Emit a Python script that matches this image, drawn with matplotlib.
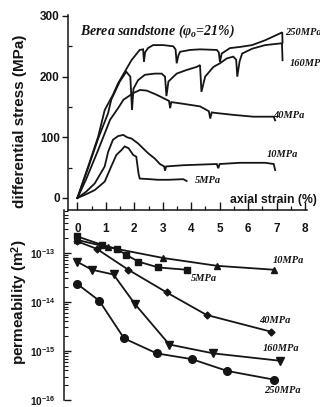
import matplotlib
matplotlib.use("Agg")
import matplotlib.pyplot as plt
import numpy as np

plt.rcParams['font.family'] = ['Liberation Sans', 'DejaVu Sans']
plt.rcParams['mathtext.fontset'] = 'custom'
plt.rcParams['mathtext.rm'] = 'Liberation Sans'
plt.rcParams['mathtext.bf'] = 'Liberation Sans:bold'
plt.rcParams['mathtext.it'] = 'Liberation Serif:italic:bold'

# ---------------- stress-strain data (upper panel) ----------------
strain_250 = [0, 0.38, 0.73, 0.96, 1.25, 1.43, 1.9, 2.19, 2.31, 2.34, 2.38, 2.48, 2.66, 3.02, 3.37, 3.45,
              3.49, 3.55, 3.61, 3.96, 4.31, 4.9, 4.97, 5.01, 5.07, 5.36, 5.72, 6.14, 6.6, 7.2, 7.21]
stress_250 = [0, 52, 101, 145, 170, 189, 227, 244, 245, 225, 240, 247, 252, 252, 250, 245,
              222, 235, 241, 244, 245, 244, 240, 224, 238, 247, 249, 252, 260, 273, 256]

strain_160 = [0, 0.38, 0.73, 1.08, 1.19, 1.49, 1.72, 1.86, 1.92, 1.97, 2.13, 2.37, 2.72, 2.96, 3.08,
              3.13, 3.2, 3.49, 3.84, 4.19, 4.31, 4.36, 4.49, 4.78, 5.01, 5.25, 5.48, 5.58, 5.62, 5.70,
              5.79, 6.14, 6.6, 7.19, 7.21]
stress_160 = [0, 50, 98, 140, 162, 192, 208, 200, 145, 180, 194, 203, 205, 205, 200,
              168, 192, 205, 211, 216, 219, 175, 200, 216, 222, 230, 233, 228, 200, 225,
              238, 246, 252, 255, 227]

strain_40 = [0, 0.3, 0.73, 1.15, 1.43, 1.62, 1.97, 2.2, 2.44, 2.79, 3.22, 3.26, 3.3, 3.61, 4.31,
             4.62, 4.67, 4.72, 4.89, 5.48, 6.18, 6.9, 6.95]
stress_40 = [0, 30, 79, 129, 148, 162, 173, 178, 177, 170, 160, 148, 158, 156, 151,
             143, 131, 141, 140, 137, 134, 134, 128]

strain_10 = [0, 0.3, 0.61, 0.96, 1.08, 1.25, 1.43, 1.61, 1.75, 1.9, 2.13, 2.48, 2.72, 2.9, 3.05,
             3.08, 3.12, 3.72, 4.9, 4.95, 5.0, 5.72, 6.14, 6.6, 6.9, 6.95]
stress_10 = [0, 10, 24, 52, 76, 96, 102, 104, 100, 98, 90, 74, 65, 56, 52,
             45, 52, 54, 56, 49, 56, 58, 58, 58, 56, 46]

strain_5 = [0, 0.3, 0.61, 0.96, 1.19, 1.37, 1.55, 1.66, 1.8, 1.96, 2.07, 2.15, 2.19, 2.55, 2.83,
            3.2, 3.72, 3.84]
stress_5 = [0, 6, 13, 27, 52, 71, 79, 85, 82, 71, 68, 40, 32, 31, 30, 30, 31, 28]

# ---------------- permeability data (lower panel) ----------------
perm_strain_5 = [0, 0.86, 1.38, 1.71, 2.14, 2.85, 3.84]
perm_5 = [2.14e-13, 1.45e-13, 1.2e-13, 9.1e-14, 6.6e-14, 5.0e-14, 4.5e-14]
perm_strain_10 = [0, 1.09, 3.02, 4.92, 6.91]
perm_10 = [1.82e-13, 1.29e-13, 7.8e-14, 5.4e-14, 4.5e-14]
perm_strain_40 = [0, 0.68, 1.79, 3.14, 4.54, 6.82]
perm_40 = [1.7e-13, 1.2e-13, 4.5e-14, 1.55e-14, 5.4e-15, 2.45e-15]
perm_strain_160 = [0, 0.51, 1.27, 2.03, 3.23, 4.78, 7.12]
perm_160 = [6.5e-14, 4.5e-14, 3.6e-14, 8.9e-15, 1.35e-15, 8.9e-16, 6.3e-16]
perm_strain_250 = [0, 0.77, 1.64, 2.79, 4.02, 5.27, 6.91]
perm_250 = [2.3e-14, 1.05e-14, 1.8e-15, 8.9e-16, 6.8e-16, 3.9e-16, 2.6e-16]

x_ticks = [0, 1, 2, 3, 4, 5, 6, 7, 8]
stress_ticks = [0, 100, 200, 300]
perm_ticks = [1e-16, 1e-15, 1e-14, 1e-13]
perm_tick_labels = [r'$\mathbf{10^{-16}}$', r'$\mathbf{10^{-15}}$', r'$\mathbf{10^{-14}}$', r'$\mathbf{10^{-13}}$']

W, H = 320, 407
fig = plt.figure(figsize=(W / 100, H / 100), dpi=100)
fig.patch.set_facecolor('white')

ax2 = fig.add_axes([64 / W, (H - 400) / H, (307 - 64) / W, (400 - 210) / H])
ax1 = fig.add_axes([68 / W, (H - 210) / H, (307 - 68) / W, (210 - 15) / H])
for a in (ax1, ax2):
    a.patch.set_visible(False)

ink = '#151515'
lw = 1.3

# upper panel
for s, t in [(strain_250, stress_250), (strain_160, stress_160), (strain_40, stress_40),
             (strain_10, stress_10), (strain_5, stress_5)]:
    ax1.plot(s, t, color=ink, lw=lw, solid_joinstyle='miter')

ax1.set_xlim(-0.33, 8.07)
ax1.set_ylim(-19.8, 301.6)
for sp in ['top', 'right']:
    ax1.spines[sp].set_visible(False)
for sp in ['left', 'bottom']:
    ax1.spines[sp].set_linewidth(1.1)
    ax1.spines[sp].set_color(ink)
ax1.set_yticks(stress_ticks)
ax1.set_yticklabels([str(v) for v in stress_ticks], fontsize=8.5, fontweight='bold')
ax1.set_yticks([50, 150, 250], minor=True)
ax1.tick_params(axis='y', which='major', direction='out', length=4, width=1, pad=2, colors=ink)
ax1.tick_params(axis='y', which='minor', direction='in', length=3, width=0.9, colors=ink)
ax1.set_xticks(x_ticks)
ax1.set_xticklabels([str(v) for v in x_ticks], fontsize=8.5, fontweight='bold')
ax1.set_xticks(np.arange(0.5, 8, 1.0), minor=True)
ax1.tick_params(axis='x', which='major', direction='in', length=6, width=1, pad=9, colors=ink)
ax1.tick_params(axis='x', which='minor', direction='in', length=3, width=0.9, colors=ink)

ax1.text(0.09, 274, r'Berea sandstone ($\varphi_o$=21%)', fontsize=10, family='Liberation Serif',
         style='italic', weight='bold', va='center', ha='left', color=ink)
lab_kw = dict(fontsize=7.5, family='Liberation Serif', style='italic', weight='bold',
              va='center', ha='left', color=ink, clip_on=False)
ax1.text(7.30, 273, '250MPa', **lab_kw)
ax1.text(7.45, 222, '160MPa', **lab_kw)
ax1.text(6.87, 136, '40MPa', **lab_kw)
ax1.text(6.65, 72, '10MPa', **lab_kw)
ax1.text(4.13, 28, '5MPa', **lab_kw)
ax1.text(5.36, -2.5, 'axial strain (%)', fontsize=8.8, weight='bold', va='center', ha='left',
         color=ink, clip_on=False)

# lower panel
mk = dict(color=ink, lw=lw, markeredgecolor=ink, markerfacecolor=ink)
ax2.plot(perm_strain_10, perm_10, marker='^', ms=5, **mk)
ax2.plot(perm_strain_5, perm_5, marker='s', ms=5, **mk)
ax2.plot(perm_strain_40, perm_40, marker='D', ms=3.5, **mk)
ax2.plot(perm_strain_160, perm_160, marker='v', ms=5.5, **mk)
ax2.plot(perm_strain_250, perm_250, marker='o', ms=5.5, **mk)
ax2.set_yscale('log')
ax2.set_xlim(-0.47, 8.07)
ax2.set_ylim(10 ** -16.0, 10 ** -12.13)
for sp in ['top', 'right', 'bottom']:
    ax2.spines[sp].set_visible(False)
ax2.spines['left'].set_linewidth(1.1)
ax2.spines['left'].set_color(ink)
ax2.set_xticks([])
ax2.set_yticks(perm_ticks)
ax2.set_yticklabels(perm_tick_labels, fontsize=7.3)
ax2.tick_params(axis='y', which='major', direction='in', length=5, width=1, pad=6, colors=ink)
ax2.tick_params(axis='y', which='minor', direction='in', length=3, width=0.8, colors=ink)

ax2.text(6.85, 10 ** -13.15, '10MPa', **lab_kw)
ax2.text(4.0, 10 ** -13.52, '5MPa', **lab_kw)
ax2.text(6.4, 10 ** -14.38, '40MPa', **lab_kw)
ax2.text(6.5, 10 ** -14.96, '160MPa', **lab_kw)
ax2.text(6.55, 10 ** -15.81, '250MPa', **lab_kw)

fig.text(20 / W, 1 - 121 / H, 'differential stress (MPa)', rotation=90, fontsize=11,
         weight='bold', ha='center', va='center', color=ink)
fig.text(20 / W, 1 - 302 / H, r'permeability (m$^\mathbf{2}$)', rotation=90, fontsize=11,
         weight='bold', ha='center', va='center', color=ink)

fig.savefig('out.png', dpi=100, facecolor='white')
